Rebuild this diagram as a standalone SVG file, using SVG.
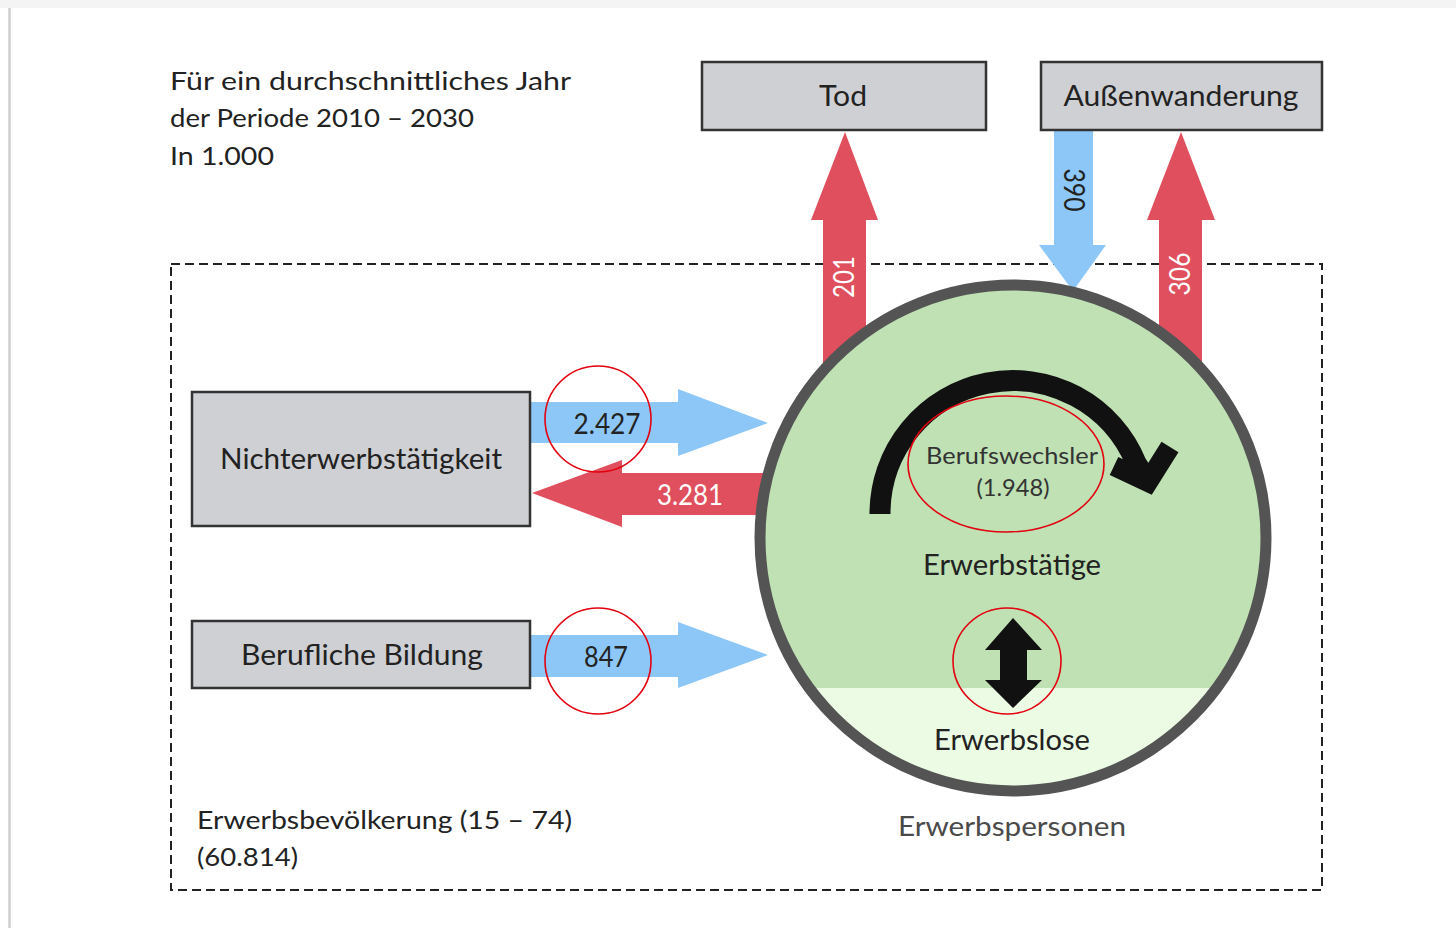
<svg xmlns="http://www.w3.org/2000/svg" width="1456" height="928" viewBox="0 0 1456 928">
<style>
text{font-family:Lato,"Open Sans","Liberation Sans",sans-serif;fill:#222;}
.box{fill:#cfd0d4;stroke:#333;stroke-width:2.5;}
.red{fill:#e04f5d;}
.blue{fill:#8dc7f8;}
.lbl{font-size:29px;text-anchor:middle;}
.num{font-size:28px;text-anchor:middle;}
.wnum{font-size:28px;text-anchor:middle;fill:#fff;}
.mark{fill:none;stroke:#e3000f;stroke-width:1.6;}
</style>
<rect x="0" y="0" width="1456" height="928" fill="#ffffff"/>
<rect x="0" y="0" width="1456" height="8" fill="#f4f4f4"/>
<line x1="9.5" y1="8" x2="9.5" y2="928" stroke="#cfcfcf" stroke-width="2.5"/>

<g id="title">
<text x="170" y="90" font-size="25" textLength="401" lengthAdjust="spacingAndGlyphs">Für ein durchschnittliches Jahr</text>
<text x="170" y="127" font-size="25" textLength="304" lengthAdjust="spacingAndGlyphs">der Periode 2010 – 2030</text>
<text x="170" y="165" font-size="25" textLength="104" lengthAdjust="spacingAndGlyphs">In 1.000</text>
</g>

<g id="erwerbsbevoelkerung">
<rect x="171" y="264" width="1151" height="626" fill="none" stroke="#222" stroke-width="2" stroke-dasharray="9 5"/>
<text x="197" y="829" font-size="25" textLength="375" lengthAdjust="spacingAndGlyphs">Erwerbsbevölkerung (15 – 74)</text>
<text x="197" y="866" font-size="25" textLength="101" lengthAdjust="spacingAndGlyphs">(60.814)</text>
</g>

<g id="connectors">
<!-- Tod (up) -->
<polygon class="red" points="823,420 823,220 811,220 845,132 878,220 866,220 866,420"/>
<!-- Außenwanderung out (up) -->
<polygon class="red" points="1159,420 1159,220 1147,220 1181,132 1215,220 1202,220 1202,420"/>
<!-- Außenwanderung in (down) -->
<polygon class="blue" points="1054,130 1093,130 1093,245 1106,245 1073,291 1039,245 1054,245"/>
<!-- 2.427 -->
<polygon class="blue" points="531,402 678,402 678,389 768,423 678,456 678,443 531,443"/>
<!-- 3.281 -->
<polygon class="red" points="820,473 622,473 622,460 532,493 622,527 622,515 820,515"/>
<!-- 847 -->
<polygon class="blue" points="531,635 678,635 678,622 768,655 678,688 678,677 531,677"/>
<text transform="translate(845,277) rotate(-90)" x="0" y="9" class="wnum" font-size="27" textLength="42" lengthAdjust="spacingAndGlyphs">201</text>
<text transform="translate(1181,274) rotate(-90)" x="0" y="9" class="wnum" font-size="27" textLength="43" lengthAdjust="spacingAndGlyphs">306</text>
<text transform="translate(1073,190) rotate(90)" x="0" y="9" class="num" font-size="27" textLength="43" lengthAdjust="spacingAndGlyphs">390</text>
<text x="607" y="434" class="num" textLength="67" lengthAdjust="spacingAndGlyphs">2.427</text>
<text x="690" y="505" class="wnum" textLength="66" lengthAdjust="spacingAndGlyphs">3.281</text>
<text x="606" y="667" class="num" textLength="44" lengthAdjust="spacingAndGlyphs">847</text>
</g>

<g id="tod">
<rect class="box" x="702" y="62" width="284" height="68"/>
<text x="843" y="106" class="lbl" textLength="48" lengthAdjust="spacingAndGlyphs">Tod</text>
</g>

<g id="aussenwanderung">
<rect class="box" x="1041" y="62" width="281" height="68"/>
<text x="1181" y="106" class="lbl" textLength="235" lengthAdjust="spacingAndGlyphs">Außenwanderung</text>
</g>

<g id="nichterwerbstaetigkeit">
<rect class="box" x="192" y="392" width="338" height="134"/>
<text x="361" y="469" class="lbl" textLength="282" lengthAdjust="spacingAndGlyphs">Nichterwerbstätigkeit</text>
</g>

<g id="berufliche-bildung">
<rect class="box" x="192" y="621" width="338" height="67"/>
<text x="362" y="665" class="lbl" textLength="242" lengthAdjust="spacingAndGlyphs">Berufliche Bildung</text>
</g>

<g id="erwerbspersonen">
<defs>
<clipPath id="cc"><circle cx="1013" cy="538" r="253"/></clipPath>
</defs>
<circle cx="1013" cy="538" r="253" fill="#bfe1b3"/>
<rect x="755" y="688" width="520" height="120" fill="#ebfbe4" clip-path="url(#cc)"/>
<circle cx="1013" cy="538" r="253" fill="none" stroke="#545454" stroke-width="11"/>
<text x="1012" y="836" font-size="27" text-anchor="middle" fill="#4a4a4a" style="fill:#4a4a4a" textLength="228" lengthAdjust="spacingAndGlyphs">Erwerbspersonen</text>
</g>

<g id="berufswechsler">
<path d="M 880 514 A 133 133 0 0 1 1136 463 L 1148 482" fill="none" stroke="#111" stroke-width="21"/>
<polyline points="1114,466 1148,482 1170,447" fill="none" stroke="#111" stroke-width="20" stroke-linejoin="miter"/>
<text x="1012" y="464" font-size="23" text-anchor="middle" fill="#333" style="fill:#333" textLength="172" lengthAdjust="spacingAndGlyphs">Berufswechsler</text>
<text x="1013" y="496" font-size="23" text-anchor="middle" fill="#333" style="fill:#333" textLength="73" lengthAdjust="spacingAndGlyphs">(1.948)</text>
</g>

<g id="erwerbstaetige">
<text x="1012" y="575" font-size="28" text-anchor="middle" textLength="178" lengthAdjust="spacingAndGlyphs">Erwerbstätige</text>
</g>

<g id="uebergang">
<polygon points="1013,618 1042,650 1027,650 1027,680 1042,680 1013,708 985,680 1000,680 1000,650 985,650" fill="#111"/>
</g>

<g id="erwerbslose">
<text x="1012" y="750" font-size="28" text-anchor="middle" textLength="156" lengthAdjust="spacingAndGlyphs">Erwerbslose</text>
</g>

<g id="markierungen">
<ellipse class="mark" cx="598" cy="419" rx="53" ry="53"/>
<ellipse class="mark" cx="598" cy="661" rx="53" ry="53"/>
<ellipse class="mark" cx="1006" cy="464" rx="98" ry="68"/>
<ellipse class="mark" cx="1007" cy="661" rx="54" ry="53"/>
</g>
</svg>
